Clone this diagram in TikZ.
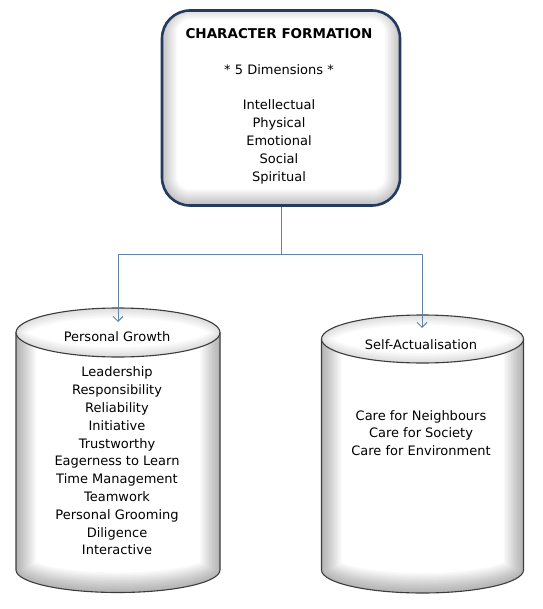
\documentclass[tikz,border=0pt]{standalone}
\usepackage{fontspec}
\setmainfont{DejaVu Sans}
\usetikzlibrary{arrows.meta}
\definecolor{navy}{RGB}{36,58,94}
\definecolor{conncol}{RGB}{96,132,172}
\definecolor{cylline}{RGB}{60,60,60}
\tikzset{
  txt/.style={align=center, inner sep=0pt, font=\fontsize{13}{17.8}\selectfont},
  conn/.style={draw=conncol, line width=0.9pt},
  arr/.style={-{Straight Barb[length=5pt,width=10pt]}},
  cyl/.style={draw=cylline, line width=1.1pt},
  topbox/.style={draw=navy, line width=2.6pt, rounded corners=28pt, minimum width=238pt,
    minimum height=195pt, fill=white, inner sep=0pt,
    path picture={
      \foreach \w in {30,27,...,3}
        \draw[line width=\w pt, black, opacity=0.022, rounded corners=28pt]
          ([yshift=1pt]path picture bounding box.south west) rectangle ([yshift=6pt]path picture bounding box.north east);
    }}
}
\begin{document}
\begin{tikzpicture}[x=1pt,y=1pt]
\useasboundingbox (0,0) rectangle (542,-609);

% top box
\node[topbox] (top) at (281,-108) {};
\node[txt, font=\bfseries\fontsize{13.5}{17.8}\selectfont] (title) at (279,-34) {CHARACTER FORMATION};
\node[txt] (dims) at (279,-70) {* 5 Dimensions *};
\node[txt] (dimlist) at (279,-142) {Intellectual\\Physical\\Emotional\\Social\\Spiritual};

% left cylinder
\def\pgbody{(16,-332.5) -- (16,-570) arc[start angle=180,end angle=360,x radius=102,y radius=22.5] -- (220,-332.5) arc[start angle=0,end angle=-180,x radius=102,y radius=24.5] -- cycle}
\fill[white] \pgbody;
\begin{scope}
  \clip \pgbody;
  \foreach \w in {40,37,...,2}
    \draw[line width=\w pt, black, opacity=0.022] (16,-332.5) -- (16,-570) arc[start angle=180,end angle=360,x radius=102,y radius=22.5] -- (220,-332.5);
\end{scope}
\draw[cyl] (16,-332.5) -- (16,-570) arc[start angle=180,end angle=360,x radius=102,y radius=22.5] -- (220,-332.5);
\fill[white] (118,-332.5) ellipse[x radius=102, y radius=24.5];
\begin{scope}
  \clip (118,-332.5) ellipse[x radius=102, y radius=24.5];
  \foreach \w in {20,17,...,2}
    \draw[line width=\w pt, black, opacity=0.02] (118,-332.5) ellipse[x radius=102, y radius=24.5];
\end{scope}
\draw[cyl] (118,-332.5) ellipse[x radius=102, y radius=24.5];
\node[txt] (pg) at (117,-337) {Personal Growth};
\node[txt] (pglist) at (117,-461) {Leadership\\Responsibility\\Reliability\\Initiative\\Trustworthy\\Eagerness to Learn\\Time Management\\Teamwork\\Personal Grooming\\Diligence\\Interactive};

% right cylinder
\def\sabody{(321.5,-339) -- (321.5,-570) arc[start angle=180,end angle=360,x radius=101,y radius=23] -- (523.5,-339) arc[start angle=0,end angle=-180,x radius=101,y radius=24] -- cycle}
\fill[white] \sabody;
\begin{scope}
  \clip \sabody;
  \foreach \w in {40,37,...,2}
    \draw[line width=\w pt, black, opacity=0.022] (321.5,-339) -- (321.5,-570) arc[start angle=180,end angle=360,x radius=101,y radius=23] -- (523.5,-339);
\end{scope}
\draw[cyl] (321.5,-339) -- (321.5,-570) arc[start angle=180,end angle=360,x radius=101,y radius=23] -- (523.5,-339);
\fill[white] (422.5,-339) ellipse[x radius=101, y radius=24];
\begin{scope}
  \clip (422.5,-339) ellipse[x radius=101, y radius=24];
  \foreach \w in {20,17,...,2}
    \draw[line width=\w pt, black, opacity=0.02] (422.5,-339) ellipse[x radius=101, y radius=24];
\end{scope}
\draw[cyl] (422.5,-339) ellipse[x radius=101, y radius=24];
\node[txt] (sa) at (421,-345) {Self-Actualisation};
\node[txt] (salist) at (421,-433) {Care for Neighbours\\Care for Society\\Care for Environment};

% connectors
\coordinate (j) at (281,-254);
\coordinate (pgin) at (118,-322);
\coordinate (sain) at (422,-328);
\draw[conn] (top.south) -- (j);
\draw[conn,arr] (j) -| (pgin);
\draw[conn,arr] (j) -| (sain);
\end{tikzpicture}
\end{document}
